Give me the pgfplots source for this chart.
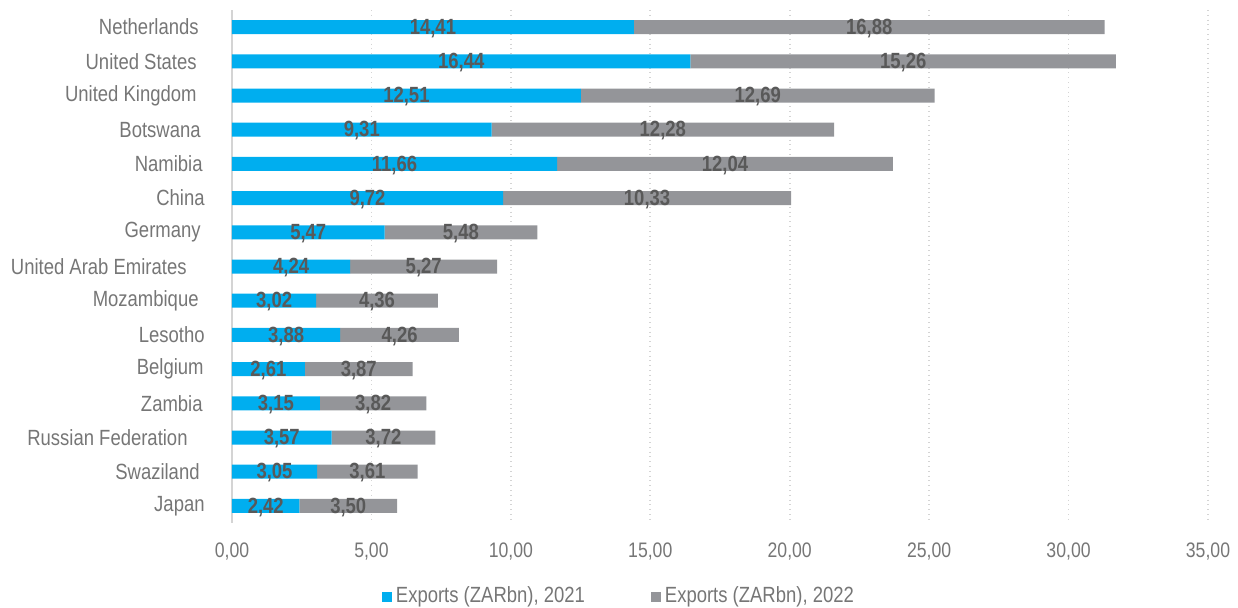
\documentclass[border=0pt]{standalone}
\usepackage{pgfplots}
\pgfplotsset{compat=1.18}
\usepackage{pgfplotstable}
\usepackage{fontspec}
\setmainfont{Liberation Sans}[FakeStretch=0.84]
\definecolor{barblue}{HTML}{00AEEF}
\definecolor{bargray}{HTML}{949599}
\definecolor{labgray}{HTML}{767676}
\definecolor{valgray}{HTML}{595959}
\definecolor{gridgray}{HTML}{D4D4D4}

\pgfplotstableread{
idx a b la lb
0 14.41 16.88 14,41 16,88
1 16.44 15.26 16,44 15,26
2 12.51 12.69 12,51 12,69
3 9.31 12.28 9,31 12,28
4 11.66 12.04 11,66 12,04
5 9.72 10.33 9,72 10,33
6 5.47 5.48 5,47 5,48
7 4.24 5.27 4,24 5,27
8 3.02 4.36 3,02 4,36
9 3.88 4.26 3,88 4,26
10 2.61 3.87 2,61 3,87
11 3.15 3.82 3,15 3,82
12 3.57 3.72 3,57 3,72
13 3.05 3.61 3,05 3,61
14 2.42 3.50 2,42 3,50
}\datatable

\begin{document}
\begin{tikzpicture}
\begin{axis}[
  name=ax,
  scale only axis,
  width=488pt, height=256.5pt,
  xbar stacked, bar width=7pt,
  xmin=0, xmax=35, ymin=-0.5, ymax=14.5,
  y dir=reverse,
  axis line style={draw=none},
  xtick={0,5,...,35},
  xmajorgrids, grid style={dotted, gridgray, line width=0.9pt},
  major tick length=0pt,
  extra x ticks={0}, extra x tick labels={},
  extra x tick style={grid style={solid, gridgray, line width=1.2pt}},
  xticklabel style={font=\fontsize{10.5}{12}\selectfont, text=labgray, inner sep=0pt, anchor=north, yshift=-9.5pt},
  /pgf/number format/.cd, fixed, fixed zerofill, precision=2, use comma, assume math mode=true,
  /pgfplots/.cd,
  ytick={0,...,14},
  yticklabels={Netherlands\kern3pt, United States\kern4pt, United Kingdom\kern4pt, Botswana\kern2pt, Namibia\kern1pt, China, Germany\kern2pt, United Arab Emirates\kern9pt, Mozambique\kern3pt, Lesotho, Belgium\kern0.5pt, Zambia\kern1pt, Russian Federation\kern8.5pt, Swaziland\kern2.5pt, Japan},
  yticklabel style={font=\fontsize{11}{13}\selectfont, text=labgray, inner sep=0pt, anchor=east, xshift=-13.5pt},
  legend columns=2,
  legend style={draw=none, fill=none, at={(axis description cs:0.3975,-0.1423)}, anchor=center,
    font=\fontsize{11}{13}\selectfont, text=labgray,
    /tikz/every even column/.append style={column sep=31pt}},
  legend image code/.code={\fill[#1] (0pt,-2.8pt) rectangle (5pt,2.2pt);},
]
\addplot[fill=barblue, draw=none] table[x=a, y=idx]{\datatable};
\addplot[fill=bargray, draw=none] table[x=b, y=idx]{\datatable};
\legend{Exports (ZARbn){,} 2021, Exports (ZARbn){,} 2022}
\end{axis}
\begin{axis}[
  scale only axis,
  width=488pt, height=256.5pt,
  xmin=0, xmax=35, ymin=-0.5, ymax=14.5,
  y dir=reverse, hide axis,
  nodes near coords style={anchor=center, font=\bfseries\fontsize{11}{13}\selectfont, text=valgray, inner sep=0pt, yshift=-0.6pt},
]
\addplot[draw=none, mark=none, nodes near coords, point meta=explicit symbolic]
  table[x expr=\thisrow{a}/2, y=idx, meta=la]{\datatable};
\addplot[draw=none, mark=none, nodes near coords, point meta=explicit symbolic]
  table[x expr=\thisrow{a}+\thisrow{b}/2, y=idx, meta=lb]{\datatable};
\end{axis}
\pgfresetboundingbox
\path ([xshift=-116pt,yshift=-42pt]ax.south west) rectangle ([xshift=503pt,yshift=261.5pt]ax.south west);
\end{tikzpicture}
\end{document}
